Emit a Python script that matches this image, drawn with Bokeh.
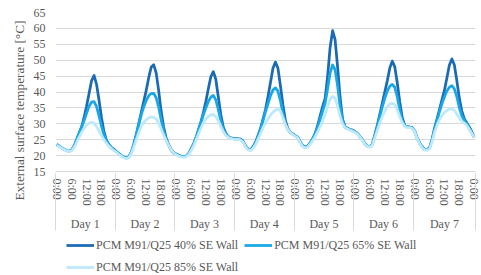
from bokeh.plotting import figure
from bokeh.layouts import column
from bokeh.models import LinearAxis, FixedTicker, Legend, LegendItem, Range1d, Title
from bokeh.embed import file_html
from bokeh.resources import INLINE

# ---- data (hourly, 7 days, 0:00 of day 1 to 0:00 after day 7) ----
hours = list(range(169))
day_labels = ["Day 1", "Day 2", "Day 3", "Day 4", "Day 5", "Day 6", "Day 7"]
time_labels = ["0:00", "6:00", "12:00", "18:00"]
y_ticks = [15, 20, 25, 30, 35, 40, 45, 50, 55, 60, 65]
series_names = ["PCM M91/Q25 40% SE Wall", "PCM M91/Q25 65% SE Wall", "PCM M91/Q25 85% SE Wall"]

wall_40 = [
    23.5, 23.0, 22.4, 22.0, 21.6, 21.3, 21.8, 23.0, 25.0, 27.0, 29.0, 32.0, 35.5, 39.5, 43.5, 45.2, 42.5, 37.5, 32.0, 27.5, 24.8, 23.5, 22.5, 22.0,
    21.3, 20.6, 20.0, 19.5, 19.2, 19.6, 21.0, 23.5, 26.5, 30.0, 33.5, 37.0, 40.5, 44.5, 47.8, 48.6, 46.0, 40.5, 34.0, 29.0, 25.5, 23.5, 22.0, 21.0,
    20.5, 20.1, 19.8, 19.7, 19.8, 20.5, 22.0, 23.5, 25.5, 28.0, 30.5, 33.5, 37.0, 41.0, 44.8, 46.4, 44.0, 38.5, 33.0, 29.0, 27.0, 26.0, 25.6, 25.4,
    25.3, 25.3, 25.2, 24.5, 23.0, 22.0, 21.8, 22.8, 24.2, 26.3, 28.5, 31.5, 34.5, 38.5, 43.0, 47.5, 49.4, 47.5, 42.0, 36.0, 31.0, 28.5, 27.3, 26.8,
    26.3, 25.8, 24.3, 23.0, 22.6, 23.0, 24.0, 25.3, 27.0, 29.5, 32.5, 35.5, 38.0, 45.0, 54.0, 59.3, 56.5, 48.0, 38.5, 31.5, 29.0, 28.6, 28.2, 28.0,
    27.5, 27.0, 26.0, 25.0, 23.8, 23.0, 22.8, 23.6, 26.5, 29.5, 33.0, 36.5, 40.0, 43.5, 47.5, 49.7, 48.0, 43.0, 37.0, 32.0, 29.5, 29.0, 29.0, 28.8,
    27.8, 25.6, 24.0, 22.8, 22.0, 21.9, 22.4, 25.0, 28.5, 31.5, 34.5, 37.5, 40.5, 44.5, 48.5, 50.4, 48.5, 43.5, 38.0, 34.0, 31.5, 30.3, 29.0, 27.5, 25.8,
]
wall_65 = [
    23.5, 23.0, 22.4, 22.0, 21.6, 21.3, 21.8, 23.0, 25.0, 27.0, 29.0, 31.0, 33.3, 35.5, 36.8, 37.0, 35.5, 32.5, 29.3, 26.5, 24.6, 23.3, 22.3, 21.8,
    21.2, 20.6, 20.0, 19.5, 19.2, 19.6, 21.0, 23.5, 26.5, 29.8, 32.8, 35.3, 37.3, 38.8, 39.5, 39.6, 38.2, 35.3, 31.3, 27.8, 25.0, 23.3, 21.8, 20.8,
    20.4, 20.0, 19.8, 19.7, 19.8, 20.4, 21.8, 23.5, 25.5, 28.0, 30.3, 32.8, 35.0, 37.0, 38.4, 38.9, 37.5, 34.5, 31.0, 28.3, 26.7, 25.9, 25.5, 25.3,
    25.2, 25.2, 25.0, 24.3, 22.8, 21.9, 21.8, 22.6, 24.0, 26.0, 28.3, 31.0, 33.8, 36.3, 38.8, 40.6, 41.3, 40.3, 37.3, 33.3, 30.0, 28.2, 27.2, 26.7,
    26.2, 25.7, 24.2, 23.0, 22.6, 23.0, 24.0, 25.2, 26.8, 29.0, 31.5, 34.0, 36.5, 41.0, 46.0, 48.5, 47.0, 42.0, 35.5, 31.0, 29.0, 28.5, 28.1, 27.9,
    27.4, 26.9, 25.9, 24.9, 23.7, 23.0, 22.8, 23.6, 26.3, 29.2, 32.3, 35.3, 38.0, 40.3, 41.8, 42.4, 41.5, 38.5, 34.5, 31.0, 29.4, 29.0, 28.9, 28.7,
    27.7, 25.5, 23.9, 22.7, 22.0, 21.9, 22.3, 24.8, 28.2, 31.0, 33.8, 36.3, 38.5, 40.3, 41.5, 42.0, 41.0, 38.5, 35.0, 32.5, 31.0, 30.0, 28.6, 27.1, 25.8,
]
wall_85 = [
    23.3, 22.8, 22.3, 21.9, 21.5, 21.2, 21.5, 22.6, 24.2, 25.8, 27.3, 28.6, 29.6, 30.2, 30.5, 30.2, 29.2, 27.8, 26.3, 25.0, 23.9, 23.0, 22.2, 21.6,
    21.0, 20.4, 19.8, 19.3, 19.0, 19.3, 20.6, 22.8, 25.0, 27.3, 29.2, 30.5, 31.3, 31.8, 32.1, 32.1, 31.5, 30.2, 28.4, 26.5, 24.8, 23.3, 21.9, 20.9,
    20.3, 19.9, 19.6, 19.5, 19.6, 20.2, 21.5, 23.0, 24.8, 26.8, 28.6, 30.3, 31.5, 32.3, 32.8, 32.9, 32.3, 31.0, 29.2, 27.6, 26.4, 25.8, 25.4, 25.2,
    25.1, 25.1, 24.9, 24.2, 22.7, 21.8, 21.6, 22.3, 23.5, 25.2, 27.0, 28.8, 30.3, 31.5, 32.7, 33.6, 34.3, 34.7, 34.0, 32.0, 29.8, 28.2, 27.2, 26.6,
    26.1, 25.6, 24.0, 22.8, 22.4, 22.7, 23.6, 24.7, 26.0, 27.5, 29.2, 31.0, 33.0, 35.5, 37.8, 38.6, 38.0, 35.5, 32.5, 30.0, 28.8, 28.4, 28.0, 27.7,
    27.3, 26.8, 25.8, 24.8, 23.6, 22.9, 22.6, 23.3, 25.6, 28.0, 30.3, 32.3, 34.0, 35.3, 36.2, 36.5, 36.0, 34.5, 32.3, 30.3, 29.2, 28.8, 28.8, 28.6,
    27.6, 25.4, 23.7, 22.5, 21.8, 21.7, 22.1, 24.3, 27.3, 29.5, 31.3, 32.6, 33.6, 34.2, 34.6, 34.7, 34.2, 33.0, 31.8, 30.8, 30.2, 29.5, 28.3, 27.0, 25.8,
]
series = [wall_40, wall_65, wall_85]

colors = ["#1B6AB4", "#17A9E6", "#BDE9FA"]
FONT = "Liberation Serif"
TXT = "#595959"
GRID = "#D9D9D9"

# day grouping of the hourly categories
day_starts = [24 * i for i in range(len(day_labels))]
day_ends = [s + 23 for s in day_starts[:-1]] + [hours[-1]]
day_mids = [(s + e) / 2 for s, e in zip(day_starts, day_ends)]
day_bounds = [s - 0.5 for s in day_starts] + [hours[-1] + 0.5]

p = figure(width=481, height=235, output_backend="svg", toolbar_location=None,
           x_range=Range1d(hours[0] - 0.5, hours[-1] + 0.5),
           y_range=Range1d(y_ticks[0], y_ticks[-1]),
           x_axis_location=None, y_axis_location="left",
           min_border_left=55, min_border_right=6, min_border_top=12, min_border_bottom=64)
p.outline_line_color = None
p.background_fill_color = "white"

# y axis
yax = p.yaxis[0]
yax.ticker = FixedTicker(ticks=y_ticks)
yax.axis_line_color = None
yax.major_tick_line_color = None
yax.minor_tick_line_color = None
yax.major_tick_out = 0
yax.minor_tick_out = 0
yax.major_label_standoff = 10
yax.major_label_text_font = FONT
yax.major_label_text_font_size = "12px"
yax.major_label_text_color = TXT
p.ygrid.ticker = FixedTicker(ticks=y_ticks)
p.ygrid.grid_line_color = GRID
p.xgrid.grid_line_color = None

p.add_layout(Title(text="External surface temperature [°C]", align="left", offset=-29,
                   vertical_align="middle", standoff=5, text_font=FONT,
                   text_font_size="13.3px", text_font_style="normal", text_color=TXT), "left")

# time-of-day axis
time_ticks = list(range(0, hours[-1] + 1, 6))
time_over = {t: time_labels[(t // 6) % len(time_labels)] for t in time_ticks}
axA = LinearAxis(ticker=FixedTicker(ticks=time_ticks), major_label_overrides=time_over,
                 major_label_orientation="vertical", major_tick_in=0, major_tick_out=0,
                 minor_tick_in=0, minor_tick_out=0,
                 minor_tick_line_color=None, axis_line_color=GRID, major_label_standoff=7,
                 major_label_text_font=FONT, major_label_text_font_size="12px",
                 major_label_text_color=TXT)
p.add_layout(axA, "below")

# day axis; its minor ticks are the day separators (up to the plot area, down past the labels)
day_over = {m: lab for m, lab in zip(day_mids, day_labels)}
axB = LinearAxis(ticker=FixedTicker(ticks=day_mids, minor_ticks=day_bounds),
                 major_label_overrides=day_over, major_label_orientation="horizontal",
                 major_tick_in=0, major_tick_out=0, major_tick_line_color=None,
                 minor_tick_in=35, minor_tick_out=22, minor_tick_line_color=GRID,
                 axis_line_color=None, major_label_standoff=-14,
                 major_label_text_font=FONT, major_label_text_font_size="12px",
                 major_label_text_color=TXT)
p.add_layout(axB, "below")

for vals, c in zip(series, colors):
    p.line(hours, vals, line_color=c, line_width=2.75, line_join="round")

# legend strip below the chart (its lines lie outside its visible range)
lf = figure(width=481, height=40, output_backend="svg", toolbar_location=None,
            x_range=Range1d(1000, 1001), y_range=Range1d(1000, 1001),
            x_axis_location=None, y_axis_location=None,
            min_border_left=0, min_border_right=0, min_border_top=0, min_border_bottom=0)
lf.outline_line_color = None
lf.grid.grid_line_color = None
lrs = [lf.line(hours, vals, line_color=c, line_width=2.75) for vals, c in zip(series, colors)]
legend = Legend(items=[LegendItem(label=n, renderers=[r]) for n, r in zip(series_names, lrs)],
                orientation="horizontal", ncols=2, location=(11, 0), margin=0, padding=1,
                spacing=6, glyph_width=28, glyph_height=16, label_height=16, label_standoff=2,
                label_text_font=FONT, label_text_font_size="12px", label_text_color=TXT,
                border_line_color=None, background_fill_alpha=0)
lf.add_layout(legend, "center")

open("out.html", "w").write(file_html(column(p, lf, spacing=0), INLINE))
